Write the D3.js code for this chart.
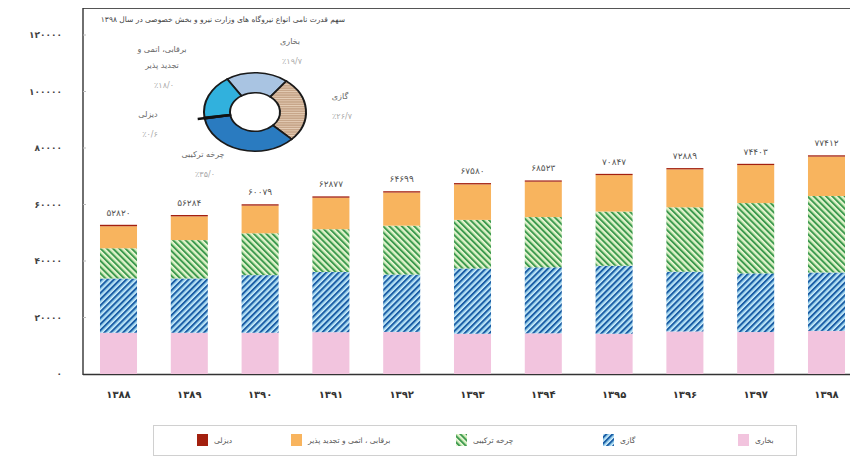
<!DOCTYPE html>
<meta charset="utf-8">
<style>
    body { margin: 0; background: #fff; }
    svg { font-family: "DejaVu Sans", sans-serif; }
    .ytick { font-size: 9px; font-weight: bold; fill: #444; text-anchor: end; letter-spacing: 1.2px; }
    .xtick { font-size: 10px; font-weight: bold; fill: #333; text-anchor: middle; }
    .total { font-size: 9px; fill: #555; text-anchor: middle; }
    .pieName { font-size: 8px; fill: #666; text-anchor: middle; }
    .piePct { font-size: 8px; fill: #aaa; text-anchor: middle; }
    .legendText { font-size: 7.5px; fill: #555; }
</style>
<body>
<script src="https://d3js.org/d3.v7.min.js"></script>
<script>
    // data
    var years = [1388, 1389, 1390, 1391, 1392, 1393, 1394, 1395, 1396, 1397, 1398];
    var steam = [14600, 14600, 14600, 14800, 14900, 14250, 14400, 14250, 15050, 14850, 15250];
    var gas = [19200, 19200, 20400, 21300, 20300, 23100, 23350, 24050, 21150, 20750, 20670];
    var combined = [10700, 13600, 14800, 15150, 17300, 17200, 17800, 19200, 22800, 24900, 27094];
    var hydro = [7800, 8400, 9800, 11150, 11730, 12570, 12520, 12900, 13440, 13450, 13934];
    var diesel = [520, 484, 479, 477, 469, 460, 453, 447, 449, 453, 464];
    var totals = [52820, 56284, 60079, 62877, 64699, 67580, 68523, 70847, 72889, 74403, 77412];
    var yTicks = [0, 20000, 40000, 60000, 80000, 100000, 120000];

    var seriesKeys = ["steam", "gas", "combined", "hydro", "diesel"];
    var seriesNames = ["بخاری", "گازی", "چرخه ترکیبی", "برقابی ، اتمی و تجدید پذیر", "دیزلی"];

    // pie (share in 1398)
    var pieNames = [["بخاری"], ["گازی"], ["چرخه ترکیبی"], ["دیزلی"], ["برقابی، اتمی و", "تجدید پذیر"]];
    var pieShare = [19.7, 26.7, 35.0, 0.6, 18.0];
    var pieLabels = ["٪۱۹/۷", "٪۲۶/۷", "٪۳۵/۰", "٪۰/۶", "٪۱۸/۰"];

    var title = "سهم قدرت نامی انواع نیروگاه های وزارت نیرو و بخش خصوصی در سال ۱۳۹۸";

    function fa(n) {
        return String(n).replace(/[0-9]/g, function(c) { return "۰۱۲۳۴۵۶۷۸۹"[+c]; });
    }

    var width = 850, height = 464;
    var left = 83, base = 374;

    var svg = d3.select("body").append("svg").attr("width", width).attr("height", height);

    var defs = svg.append("defs");
    var pBlue = defs.append("pattern").attr("id", "hBlue").attr("patternUnits", "userSpaceOnUse")
        .attr("width", 4.4).attr("height", 4.4).attr("patternTransform", "rotate(45)");
    pBlue.append("rect").attr("width", 4.4).attr("height", 4.4).attr("fill", "#d4eefa");
    pBlue.append("rect").attr("width", 2.2).attr("height", 4.4).attr("fill", "#1c5fa6");
    pBlue.append("rect").attr("x", 2.2).attr("width", 0.9).attr("height", 4.4).attr("fill", "#7cc6ea");

    var pGreen = defs.append("pattern").attr("id", "hGreen").attr("patternUnits", "userSpaceOnUse")
        .attr("width", 4.4).attr("height", 4.4).attr("patternTransform", "rotate(-45)");
    pGreen.append("rect").attr("width", 4.4).attr("height", 4.4).attr("fill", "#eef8d8");
    pGreen.append("rect").attr("width", 2.0).attr("height", 4.4).attr("fill", "#3e9a50");
    pGreen.append("rect").attr("x", 2.0).attr("width", 0.9).attr("height", 4.4).attr("fill", "#a9dc98");

    var pTan = defs.append("pattern").attr("id", "hTan").attr("patternUnits", "userSpaceOnUse")
        .attr("width", 4).attr("height", 3);
    pTan.append("rect").attr("width", 4).attr("height", 3).attr("fill", "#c7a68a");
    pTan.append("rect").attr("width", 4).attr("height", 1).attr("fill", "#e6cfb8");

    var colors = {
        steam: "#f2c4de",
        gas: "url(#hBlue)",
        combined: "url(#hGreen)",
        hydro: "#f8b45e",
        diesel: "#a3200f"
    };

    // scales
    var x = d3.scaleBand().domain(years).range([left, 862]).paddingInner(0.477).paddingOuter(0.24);
    var y = d3.scaleLinear().domain([0, 120000]).range([base, 35]);

    // frame
    svg.append("line").attr("x1", left).attr("x2", width).attr("y1", 8.5).attr("y2", 8.5)
        .attr("stroke", "#555").attr("stroke-width", 1.2);
    svg.append("line").attr("x1", left).attr("x2", left).attr("y1", 8).attr("y2", base + 1)
        .attr("stroke", "#333").attr("stroke-width", 1.4);
    svg.append("line").attr("x1", left).attr("x2", width).attr("y1", base + 0.5).attr("y2", base + 0.5)
        .attr("stroke", "#333").attr("stroke-width", 1.4);

    // y ticks
    svg.selectAll(".ytick").data(yTicks).enter().append("text").attr("class", "ytick")
        .attr("x", 62).attr("y", function(d) { return y(d); }).attr("dy", "0.35em")
        .text(function(d) { return fa(d); });
    svg.selectAll(".ymark").data(yTicks.slice(1)).enter().append("line")
        .attr("x1", left).attr("x2", left + 3)
        .attr("y1", function(d) { return y(d); }).attr("y2", function(d) { return y(d); })
        .attr("stroke", "#bbb");

    // stacked bars
    var rows = years.map(function(yr, i) {
        return { year: yr, steam: steam[i], gas: gas[i], combined: combined[i], hydro: hydro[i], diesel: diesel[i] };
    });
    var stack = d3.stack().keys(seriesKeys)(rows);

    svg.selectAll(".layer").data(stack).enter().append("g")
        .attr("fill", function(d) { return colors[d.key]; })
        .selectAll("rect").data(function(d) { return d; }).enter().append("rect")
        .attr("x", function(d) { return x(d.data.year); })
        .attr("width", x.bandwidth())
        .attr("y", function(d) { return y(d[1]); })
        .attr("height", function(d) { return y(d[0]) - y(d[1]); });

    // totals
    svg.selectAll(".total").data(years).enter().append("text").attr("class", "total")
        .attr("x", function(d) { return x(d) + x.bandwidth() / 2; })
        .attr("y", function(d, i) { return y(totals[i]) - 9; })
        .text(function(d, i) { return fa(totals[i]); });

    // x labels
    svg.selectAll(".xtick").data(years).enter().append("text").attr("class", "xtick")
        .attr("x", function(d) { return x(d) + x.bandwidth() / 2; })
        .attr("y", 398)
        .text(function(d) { return fa(d); });

    // title of inset
    svg.append("text").attr("x", 345).attr("y", 22).attr("text-anchor", "start")
        .attr("direction", "rtl").style("font-size", "7.5px").style("fill", "#444").text(title);

    // donut
    var pieColors = ["#a9c4e2", "url(#hTan)", "#2a7bc0", "#111", "#31b1dd"];
    var pie = d3.pie().sort(null).value(function(d) { return d; })
        .startAngle(-33 * Math.PI / 180).endAngle(327 * Math.PI / 180);
    var arc = d3.arc().innerRadius(25).outerRadius(51);
    var donut = svg.append("g").attr("transform", "translate(255,112) scale(1,0.77)");
    donut.selectAll("path").data(pie(pieShare)).enter().append("path")
        .attr("d", arc)
        .attr("fill", function(d, i) { return pieColors[i]; })
        .attr("stroke", "#1a1a1a").attr("stroke-width", 2);
    // diesel tick
    var dslice = pie(pieShare)[3];
    var am = (dslice.startAngle + dslice.endAngle) / 2;
    svg.append("line")
        .attr("x1", 255 + Math.sin(am) * 25).attr("y1", 112 - Math.cos(am) * 25 * 0.77)
        .attr("x2", 255 + Math.sin(am) * 58).attr("y2", 112 - Math.cos(am) * 58 * 0.77)
        .attr("stroke", "#111").attr("stroke-width", 2.5);

    // pie labels
    var pieLabelPos = [[290, 44], [340, 99], [203, 157], [148, 117], [162, 52]];
    pieNames.forEach(function(lines, i) {
        var p = pieLabelPos[i];
        lines.forEach(function(t, j) {
            svg.append("text").attr("class", "pieName").attr("x", p[0]).attr("y", p[1] + j * 16).text(t);
        });
        svg.append("text").attr("class", "piePct").attr("x", p[0] + 2).attr("y", p[1] + lines.length * 16 + 4)
            .text(pieLabels[i]);
    });

    // legend
    svg.append("rect").attr("x", 153.5).attr("y", 425.5).attr("width", 643).attr("height", 30)
        .attr("fill", "none").attr("stroke", "#d0d0d0");
    var legendX = [738, 603, 456, 291, 197];
    var legendFill = ["#f2c4de", "url(#hBlue)", "url(#hGreen)", "#f8b45e", "#a3200f"];
    seriesNames.forEach(function(n, i) {
        var lx = legendX[i];
        svg.append("rect").attr("x", lx).attr("y", 434).attr("width", 11).attr("height", 12)
            .attr("fill", legendFill[i]);
        svg.append("text").attr("class", "legendText")
            .attr("x", lx + 17).attr("y", 443).attr("text-anchor", "start").text(n);
    });
</script>
</body>
